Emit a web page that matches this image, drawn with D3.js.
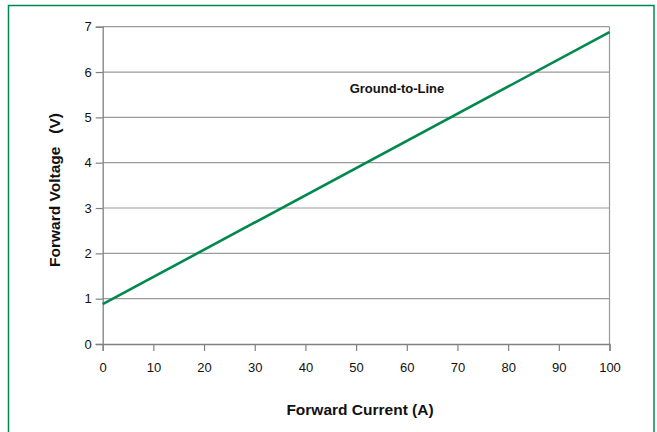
<!DOCTYPE html>
<html><head><meta charset="utf-8">
<script src="https://cdn.jsdelivr.net/npm/d3@7"></script>
<style>body{margin:0;background:#fff}svg{display:block}</style>
</head><body>
<script>
const currentA = [0, 100];
const voltageV = [0.88, 6.88];
const xTicks = [0,10,20,30,40,50,60,70,80,90,100];
const yTicks = [0,1,2,3,4,5,6,7];
const seriesLabel = "Ground-to-Line";
const xTitle = "Forward Current (A)";
const yTitle = "Forward Voltage   (V)";

const W = 657, H = 432;
const svg = d3.select("body").append("svg").attr("width", W).attr("height", H);
svg.append("rect").attr("x", 8.5).attr("y", 5.5).attr("width", 645.5).attr("height", 440)
  .attr("fill", "none").attr("stroke", "#00884f").attr("stroke-width", 1.5);

const x = d3.scaleLinear().domain([0, 100]).range([102.7, 609.5]);
const y = d3.scaleLinear().domain([0, 7]).range([344, 26.7]);
const font = "Liberation Sans, Arial, sans-serif";

// grid
svg.append("g").selectAll("line").data(yTicks.filter(d => d > 0)).join("line")
  .attr("x1", x(0)).attr("x2", x(100)).attr("y1", d => y(d)).attr("y2", d => y(d))
  .attr("stroke", "#9a9a9a").attr("stroke-width", 1.2);
svg.append("line").attr("x1", x(100)).attr("x2", x(100)).attr("y1", y(0)).attr("y2", y(7))
  .attr("stroke", "#9a9a9a").attr("stroke-width", 1.2);

// axes
const xAxis = svg.append("g").attr("transform", `translate(0,${y(0)})`)
  .call(d3.axisBottom(x).tickValues(xTicks).tickFormat(d3.format("d")).tickSize(7).tickPadding(12));
const yAxis = svg.append("g").attr("transform", `translate(${x(0)},0)`)
  .call(d3.axisLeft(y).tickValues(yTicks).tickFormat(d3.format("d")).tickSize(7).tickPadding(4));
[xAxis, yAxis].forEach(g => {
  g.select(".domain").attr("stroke", "#808080").attr("stroke-width", 1.3);
  g.selectAll(".tick line").attr("stroke", "#808080").attr("stroke-width", 1.2);
  g.selectAll(".tick text").attr("font-family", font).attr("font-size", 13).attr("fill", "#111");
});

// series
svg.append("path").datum(currentA.map((c, i) => [c, voltageV[i]]))
  .attr("d", d3.line().x(d => x(d[0])).y(d => y(d[1])))
  .attr("fill", "none").attr("stroke", "#00884f").attr("stroke-width", 2.6);

svg.append("text").attr("x", 397).attr("y", 92.5).attr("text-anchor", "middle")
  .attr("font-family", font).attr("font-weight", "bold").attr("font-size", 13).attr("fill", "#111")
  .text(seriesLabel);
svg.append("text").attr("x", 360).attr("y", 414.5).attr("text-anchor", "middle")
  .attr("font-family", font).attr("font-weight", "bold").attr("font-size", 15.5).attr("fill", "#111")
  .text(xTitle);
svg.append("text").attr("transform", "translate(60,190) rotate(-90)").attr("text-anchor", "middle")
  .attr("font-family", font).attr("font-weight", "bold").attr("font-size", 15.5).attr("fill", "#111")
  .attr("xml:space", "preserve").style("white-space", "pre")
  .text(yTitle);
</script>
</body></html>
